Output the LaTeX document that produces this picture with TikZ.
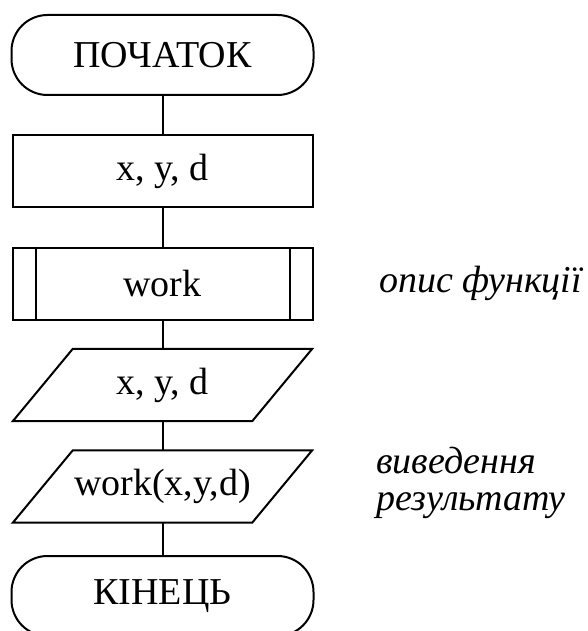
\documentclass[tikz,border=0pt]{standalone}
\usepackage{fontspec}
\setmainfont{Liberation Serif}
\begin{document}
\begin{tikzpicture}[x=1pt,y=-1pt,
  every node/.style={font=\fontsize{38}{37}\selectfont},
  conn/.style={line width=2pt},
  term/.style={draw, line width=2pt, rounded corners=36pt,
    minimum width=302pt, minimum height=80pt, inner sep=0pt},
  proc/.style={draw, line width=2pt, minimum width=300pt,
    minimum height=72pt, inner sep=0pt},
  iobox/.style={minimum width=299pt, minimum height=72pt, inner sep=0pt},
  outline/.style={line width=2pt, line join=miter},
  note/.style={font=\fontsize{38}{37}\selectfont\itshape,
    anchor=base west, inner sep=0pt, align=left}]
  \useasboundingbox (0,0) rectangle (587,631);

  % flowchart blocks
  \node[term] (start) at (162.5,55) {ПОЧАТОК};
  \node[proc] (vars) at (162.5,171) {x, y, d};
  \node[proc] (sub) at (162.5,283.5) {work};
  \draw[outline] ([xshift=24pt]sub.north west) -- ([xshift=24pt]sub.south west);
  \draw[outline] ([xshift=-24pt]sub.north east) -- ([xshift=-24pt]sub.south east);

  \node[iobox] (in) at (162.5,385) {x, y, d};
  \draw[outline] ([xshift=60pt]in.north west) -- (in.north east)
    -- ([xshift=-60pt]in.south east) -- (in.south west) -- cycle;

  \node[iobox] (out) at (162.5,486.5) {work(x,y,d)};
  \draw[outline] ([xshift=60pt]out.north west) -- (out.north east)
    -- ([xshift=-60pt]out.south east) -- (out.south west) -- cycle;

  \node[term] (stop) at (162.5,596) {КІНЕЦЬ};

  % connectors
  \draw[conn] (start) -- (vars);
  \draw[conn] (vars) -- (sub);
  \draw[conn] (sub) -- (in);
  \draw[conn] (in) -- (out);
  \draw[conn] (out) -- (stop);

  % side comments (base anchor sits on the last line)
  \node[note] (c1) at (379,292) {опис функції};
  \node[note] (c2) at (376,510) {виведення\\результату};
\end{tikzpicture}
\end{document}
